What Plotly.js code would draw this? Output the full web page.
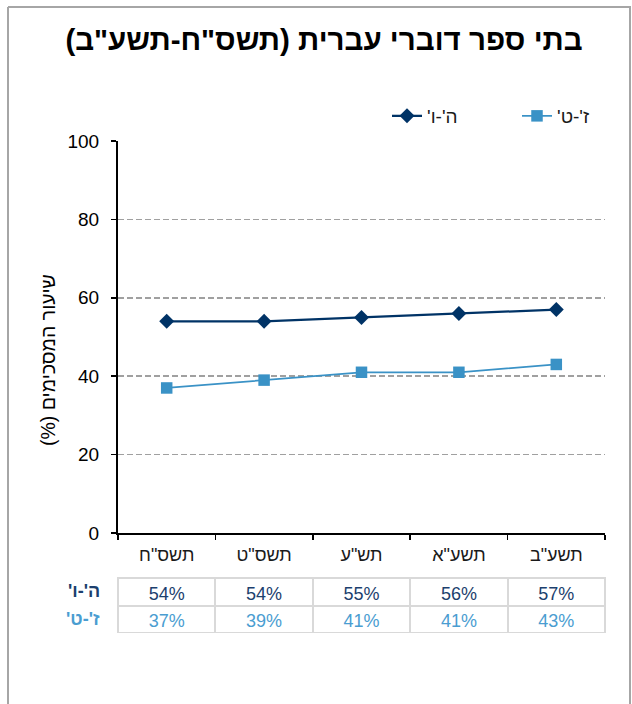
<!DOCTYPE html>
<html>
<head>
<meta charset="utf-8">
<script src="https://cdn.plot.ly/plotly-3.0.1.min.js"></script>
<style>html,body{margin:0;padding:0;background:#fff}</style>
</head>
<body>
<div id="chart" style="width:632px;height:704px"></div>
<script>
const RLM = '\u200F';
const rtl = s => RLM + s + RLM;

const categories = ['תשס"ח', 'תשס"ט', 'תש"ע', 'תשע"א', 'תשע"ב'];
const seriesNames = ["ה'-ו'", "ז'-ט'"];
const grades56 = [54, 54, 55, 56, 57];
const grades79 = [37, 39, 41, 41, 43];
const yTicks = [0, 20, 40, 60, 80, 100];
const titleText = 'בתי ספר דוברי עברית (תשס"ח-תשע"ב)';
const yTitle = 'שיעור המסכימים (%)';

const navy = '#003366';
const blue = '#3a92c6';
const navyText = '#1c3f6e';
const blueText = '#4a9dd1';

const W = 632, H = 704;
const L = 118, R = 27, T = 141, B = 71;
const pw = W - L - R, ph = H - T - B;
const px = x => (x - L) / pw;
const py = y => (H - B - y) / ph;

const fmt = v => v + '%';
const tableFont = {family: 'Liberation Sans, Arial, sans-serif', size: 18};

const traces = [
  {
    type: 'scatter', mode: 'lines+markers', name: rtl(seriesNames[0]),
    x: categories, y: grades56,
    line: {color: navy, width: 2.25},
    marker: {symbol: 'diamond', size: 11.5, color: navy},
    xaxis: 'x', yaxis: 'y'
  },
  {
    type: 'scatter', mode: 'lines+markers', name: rtl(seriesNames[1]),
    x: categories, y: grades79,
    line: {color: blue, width: 1.75},
    marker: {symbol: 'square', size: 11.5, color: blue},
    xaxis: 'x', yaxis: 'y'
  },
  {
    type: 'table',
    domain: {x: [0, 1], y: [0, py(578)]},
    columnwidth: categories.map(() => 1),
    header: {
      values: categories.map((c, i) => [fmt(grades56[i])]),
      height: 27.5, align: 'center',
      line: {color: '#d9d9d9', width: 2},
      fill: {color: 'rgba(0,0,0,0)'},
      font: Object.assign({color: navyText}, tableFont)
    },
    cells: {
      values: categories.map((c, i) => [fmt(grades79[i])]),
      height: 27.5, align: 'center',
      line: {color: '#d9d9d9', width: 2},
      fill: {color: 'rgba(0,0,0,0)'},
      font: Object.assign({color: blueText}, tableFont)
    },
    showlegend: false
  }
];

const frameColor = '#a6a6a6';
const layout = {
  width: W, height: H,
  margin: {l: L, r: R, t: T, b: B, pad: 0, autoexpand: false},
  paper_bgcolor: '#ffffff', plot_bgcolor: '#ffffff',
  font: {family: 'Liberation Sans, Arial, sans-serif', color: '#000'},
  title: {
    text: '<b>' + rtl(titleText) + '</b>',
    font: {size: 29.5, color: '#000'},
    x: px(324), xref: 'paper', xanchor: 'center',
    y: 1 - 40 / H, yref: 'container', yanchor: 'middle'
  },
  showlegend: true,
  legend: {
    orientation: 'h', x: px(647), xanchor: 'right', y: py(116), yanchor: 'middle',
    font: {size: 19, color: '#1a1a1a'}, bgcolor: 'rgba(0,0,0,0)',
    entrywidth: 85, entrywidthmode: 'pixels', traceorder: 'normal'
  },
  xaxis: {
    type: 'category', range: [-0.5, 4.5], tickson: 'boundaries',
    showline: true, linecolor: '#000', linewidth: 2,
    ticks: 'outside', ticklen: 5, tickwidth: 1.5, tickcolor: '#000',
    showgrid: false, zeroline: false,
    tickfont: {size: 18, color: '#1a1a1a'},
    ticklabelstandoff: 4,
    fixedrange: true
  },
  yaxis: {
    domain: [py(533), 1], range: [0, 100], tickvals: yTicks,
    showline: true, linecolor: '#000', linewidth: 2,
    ticks: 'outside', ticklen: 5, tickwidth: 1.5, tickcolor: '#000',
    showgrid: true, gridcolor: '#a0a0a0', gridwidth: 1.75, griddash: '6px,3px',
    zeroline: false,
    tickfont: {size: 19, color: '#000'},
    ticklabelstandoff: 8,
    fixedrange: true
  },
  annotations: seriesNames.map((n, i) => ({
    text: '<b>' + rtl(n) + '</b>', xref: 'paper', yref: 'paper',
    x: px(102), y: py(i === 0 ? 591 : 619), xanchor: 'right', yanchor: 'middle',
    showarrow: false, font: {size: 18, color: i === 0 ? navyText : blueText}
  })).concat([{
    text: rtl(yTitle), xref: 'paper', yref: 'paper', textangle: -90,
    x: px(48), y: py(360), xanchor: 'center', yanchor: 'middle',
    showarrow: false, font: {size: 19.5, color: '#000'}
  }]),
  shapes: [
    {type: 'line', xref: 'paper', yref: 'paper', x0: px(8), x1: px(631), y0: py(7), y1: py(7), line: {color: frameColor, width: 2}},
    {type: 'line', xref: 'paper', yref: 'paper', x0: px(8), x1: px(8), y0: py(7), y1: py(720), line: {color: frameColor, width: 2}},
    {type: 'line', xref: 'paper', yref: 'paper', x0: px(630), x1: px(630), y0: py(7), y1: py(720), line: {color: frameColor, width: 2}}
  ]
};

Plotly.newPlot('chart', traces, layout, {displayModeBar: false, staticPlot: true});
</script>
</body>
</html>
